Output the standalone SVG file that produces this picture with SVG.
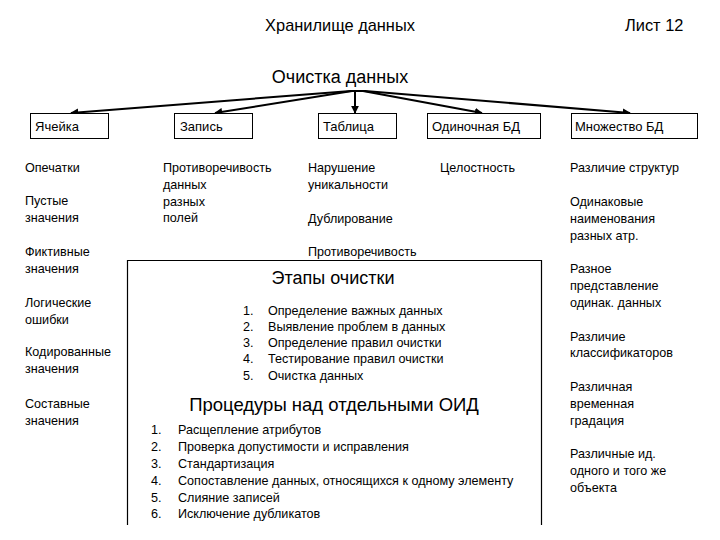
<svg xmlns="http://www.w3.org/2000/svg" width="720" height="540" viewBox="0 0 720 540">
<defs>
<marker id="ah" viewBox="0 0 10 10" refX="9" refY="5" markerWidth="4" markerHeight="4" orient="auto" markerUnits="strokeWidth">
<path d="M0,0 L10,5 L0,10 z" fill="#000"/>
</marker>
</defs>
<style>
text{font-family:"Liberation Sans",Arial,sans-serif;fill:#000}
.s{font-size:12.6px}
.b{font-size:13px}
.h{font-size:16.4px}
.t{font-size:18px}
.big{font-size:18.5px}
.box{fill:#fff;stroke:#000;stroke-width:1}
.c{stroke:#000;stroke-width:2;fill:none}
</style>
<rect width="720" height="540" fill="#fff"/>
<g id="header">
<text class="h" x="340" y="31" text-anchor="middle">Хранилище данных</text>
<text class="h" x="625" y="31">Лист 12</text>
</g>
<g id="root">
<text class="t" x="340" y="83" text-anchor="middle">Очистка данных</text>
</g>
<g id="connectors">
<line class="c" x1="350" y1="91" x2="366" y2="91"/>
<line class="c" x1="351" y1="91" x2="71" y2="113" marker-end="url(#ah)"/>
<line class="c" x1="352" y1="91" x2="215" y2="113" marker-end="url(#ah)"/>
<line class="c" x1="355" y1="91" x2="355" y2="113" marker-end="url(#ah)"/>
<line class="c" x1="363" y1="91" x2="482" y2="113" marker-end="url(#ah)"/>
<line class="c" x1="365" y1="91" x2="630" y2="113" marker-end="url(#ah)"/>
</g>
<g id="n-cell">
<rect class="box" x="30.5" y="113.5" width="78" height="25"/>
<text class="b" x="35" y="131">Ячейка</text>
<text class="s" x="25" y="172">Опечатки</text>
<text class="s" x="25" y="205">Пустые</text>
<text class="s" x="25" y="222">значения</text>
<text class="s" x="25" y="256">Фиктивные</text>
<text class="s" x="25" y="273">значения</text>
<text class="s" x="25" y="307">Логические</text>
<text class="s" x="25" y="324">ошибки</text>
<text class="s" x="25" y="356">Кодированные</text>
<text class="s" x="25" y="373">значения</text>
<text class="s" x="25" y="408">Составные</text>
<text class="s" x="25" y="425">значения</text>
</g>
<g id="n-record">
<rect class="box" x="174.5" y="113.5" width="78" height="25"/>
<text class="b" x="180" y="131">Запись</text>
<text class="s" x="163" y="172">Противоречивость</text>
<text class="s" x="163" y="189">данных</text>
<text class="s" x="163" y="206">разных</text>
<text class="s" x="163" y="222">полей</text>
</g>
<g id="n-table">
<rect class="box" x="318.5" y="113.5" width="78" height="25"/>
<text class="b" x="323" y="131">Таблица</text>
<text class="s" x="308" y="172">Нарушение</text>
<text class="s" x="308" y="189">уникальности</text>
<text class="s" x="308" y="223">Дублирование</text>
<text class="s" x="308" y="256">Противоречивость</text>
</g>
<g id="n-singledb">
<rect class="box" x="427.5" y="113.5" width="113" height="25"/>
<text class="b" x="432" y="131">Одиночная БД</text>
<text class="s" x="440" y="172">Целостность</text>
</g>
<g id="n-multidb">
<rect class="box" x="571.5" y="113.5" width="126" height="25"/>
<text class="b" x="575" y="131">Множество БД</text>
<text class="s" x="570" y="172">Различие структур</text>
<text class="s" x="570" y="206">Одинаковые</text>
<text class="s" x="570" y="223">наименования</text>
<text class="s" x="570" y="240">разных атр.</text>
<text class="s" x="570" y="273">Разное</text>
<text class="s" x="570" y="290">представление</text>
<text class="s" x="570" y="307">одинак. данных</text>
<text class="s" x="570" y="341">Различие</text>
<text class="s" x="570" y="357">классификаторов</text>
<text class="s" x="570" y="391">Различная</text>
<text class="s" x="570" y="408">временная</text>
<text class="s" x="570" y="425">градация</text>
<text class="s" x="570" y="458">Различные ид.</text>
<text class="s" x="570" y="475">одного и того же</text>
<text class="s" x="570" y="492">объекта</text>
</g>
<g id="n-stages">
<path d="M127.5,525 V260.5 H541.5 V525" fill="none" stroke="#000" stroke-width="1.2"/>
<text class="t" x="333" y="284" text-anchor="middle">Этапы очистки</text>
<g class="s">
<text x="243" y="315">1.</text><text x="268" y="315">Определение важных данных</text>
<text x="243" y="331">2.</text><text x="268" y="331">Выявление проблем в данных</text>
<text x="243" y="347">3.</text><text x="268" y="347">Определение правил очистки</text>
<text x="243" y="363">4.</text><text x="268" y="363">Тестирование правил очистки</text>
<text x="243" y="380">5.</text><text x="268" y="380">Очистка данных</text>
</g>
</g>
<g id="n-procedures">
<text class="big" x="334" y="411" text-anchor="middle">Процедуры над отдельными ОИД</text>
<g class="s">
<text x="151" y="434">1.</text><text x="178" y="434">Расщепление атрибутов</text>
<text x="151" y="451">2.</text><text x="178" y="451">Проверка допустимости и исправления</text>
<text x="151" y="468">3.</text><text x="178" y="468">Стандартизация</text>
<text x="151" y="485">4.</text><text x="178" y="485">Сопоставление данных, относящихся к одному элементу</text>
<text x="151" y="502">5.</text><text x="178" y="502">Слияние записей</text>
<text x="151" y="518">6.</text><text x="178" y="518">Исключение дубликатов</text>
</g>
</g>
</svg>
